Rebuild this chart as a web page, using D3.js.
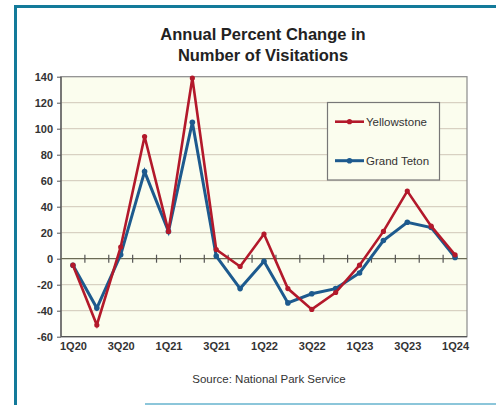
<!DOCTYPE html>
<html><head><meta charset="utf-8">
<script src="https://cdn.jsdelivr.net/npm/d3@7"></script>
<style>body{margin:0;background:#fff}svg{display:block}</style>
</head><body>
<svg id="c" width="496" height="405"></svg>
<script>
const quarters = ["1Q20","2Q20","3Q20","4Q20","1Q21","2Q21","3Q21","4Q21","1Q22","2Q22","3Q22","4Q22","1Q23","2Q23","3Q23","4Q23","1Q24"];
const tickLabels = ["1Q20","3Q20","1Q21","3Q21","1Q22","3Q22","1Q23","3Q23","1Q24"];
const yellowstone = [-5,-51,9,94,21,139,7,-6,19,-23,-39,-26,-5,21,52,25,3];
const grandTeton = [-5,-38,3,67,21,105,2,-23,-2,-34,-27,-23,-11,14,28,24,1];
const yTicks = [-60,-40,-20,0,20,40,60,80,100,120,140];
const seriesNames = ["Yellowstone","Grand Teton"];

const svg = d3.select("#c");
const F = "'Liberation Sans', Arial, sans-serif";
const L = 61, R = 467, T = 76.7, B = 336.7;

// frame
svg.append("path").attr("d","M15.5,405 L15.5,6.5 L496,6.5").attr("fill","none").attr("stroke","#137a9a").attr("stroke-width",3);
svg.append("line").attr("x1",145).attr("x2",496).attr("y1",404).attr("y2",404).attr("stroke","#8cc6da").attr("stroke-width",2);

// title
svg.append("text").attr("x",263).attr("y",40).attr("text-anchor","middle").attr("font-family",F).attr("font-weight","bold").attr("font-size",16.5).attr("fill","#222").text("Annual Percent Change in");
svg.append("text").attr("x",263).attr("y",60.5).attr("text-anchor","middle").attr("font-family",F).attr("font-weight","bold").attr("font-size",16.5).attr("fill","#222").text("Number of Visitations");

const x = d3.scalePoint().domain(quarters).range([L,R]).padding(0.5);
const y = d3.scaleLinear().domain([-60,140]).range([B,T]);

// plot background
svg.append("rect").attr("x",L).attr("y",T).attr("width",R-L).attr("height",B-T).attr("fill","#fbfdee");

// gridlines
svg.append("g").selectAll("line").data(yTicks.filter(d=>d!==-60 && d!==0 && d!==140)).join("line")
  .attr("x1",L).attr("x2",R).attr("y1",d=>y(d)).attr("y2",d=>y(d))
  .attr("stroke","#cfc7b8").attr("stroke-width",1);

// plot frame
svg.append("rect").attr("x",L).attr("y",T).attr("width",R-L).attr("height",B-T).attr("fill","none").attr("stroke","#8a8a8a").attr("stroke-width",1.2);
svg.append("line").attr("x1",L).attr("x2",L).attr("y1",T).attr("y2",B).attr("stroke","#555").attr("stroke-width",1.3);
svg.append("line").attr("x1",L).attr("x2",R).attr("y1",B).attr("y2",B).attr("stroke","#555").attr("stroke-width",1.3);

// y axis
const yAxis = d3.axisLeft(y).tickValues(yTicks).tickFormat(d=>String(d)).tickSize(4).tickPadding(4);
const gy = svg.append("g").attr("transform",`translate(${L},0)`).call(yAxis);
gy.select(".domain").remove();
gy.selectAll("line").attr("stroke","#555");
gy.selectAll("text").attr("font-family",F).attr("font-weight","bold").attr("font-size",11).attr("fill","#333");

// zero axis with ticks between categories
const step = x.step();
svg.append("line").attr("x1",L).attr("x2",R).attr("y1",y(0)).attr("y2",y(0)).attr("stroke","#6b6b55").attr("stroke-width",1.2);
svg.append("g").selectAll("line").data(quarters.slice(1)).join("line")
  .attr("x1",d=>x(d)-step/2).attr("x2",d=>x(d)-step/2).attr("y1",y(0)-4).attr("y2",y(0)+4)
  .attr("stroke","#555").attr("stroke-width",1.2);

// x axis labels
const xAxis = d3.axisBottom(x).tickValues(tickLabels).tickSize(0).tickPadding(6);
const gx = svg.append("g").attr("transform",`translate(0,${B})`).call(xAxis);
gx.select(".domain").remove();
gx.selectAll("text").attr("font-family",F).attr("font-weight","bold").attr("font-size",11).attr("fill","#333");

// lines
const line = d3.line().x((d,i)=>x(quarters[i])).y(d=>y(d));
const series = [
  {name:seriesNames[0], values:yellowstone, color:"#b3192b", w:2.6, r:2.6},
  {name:seriesNames[1], values:grandTeton, color:"#1d5a8e", w:3, r:2.8}
];
series.slice().reverse().forEach(s=>{
  svg.append("path").attr("d",line(s.values)).attr("fill","none").attr("stroke",s.color).attr("stroke-width",s.w).attr("stroke-linejoin","miter");
  svg.append("g").selectAll("circle").data(s.values).join("circle")
    .attr("cx",(d,i)=>x(quarters[i])).attr("cy",d=>y(d)).attr("r",s.r).attr("fill",s.color);
});

// legend
svg.append("rect").attr("x",327.5).attr("y",102.5).attr("width",112).attr("height",77.5).attr("fill","#fbfdee").attr("stroke","#777").attr("stroke-width",1.2);
const ly = [121.7,160.7];
series.forEach((s,i)=>{
  svg.append("line").attr("x1",335).attr("x2",364).attr("y1",ly[i]).attr("y2",ly[i]).attr("stroke",s.color).attr("stroke-width",s.w);
  svg.append("circle").attr("cx",349.5).attr("cy",ly[i]).attr("r",s.r).attr("fill",s.color);
  svg.append("text").attr("x",366).attr("y",ly[i]+4).attr("font-family",F).attr("font-size",11.5).attr("fill","#333").text(s.name);
});

// source
svg.append("text").attr("x",269).attr("y",383).attr("text-anchor","middle").attr("font-family",F).attr("font-size",11.5).attr("fill","#333").text("Source: National Park Service");
</script>
</body></html>
